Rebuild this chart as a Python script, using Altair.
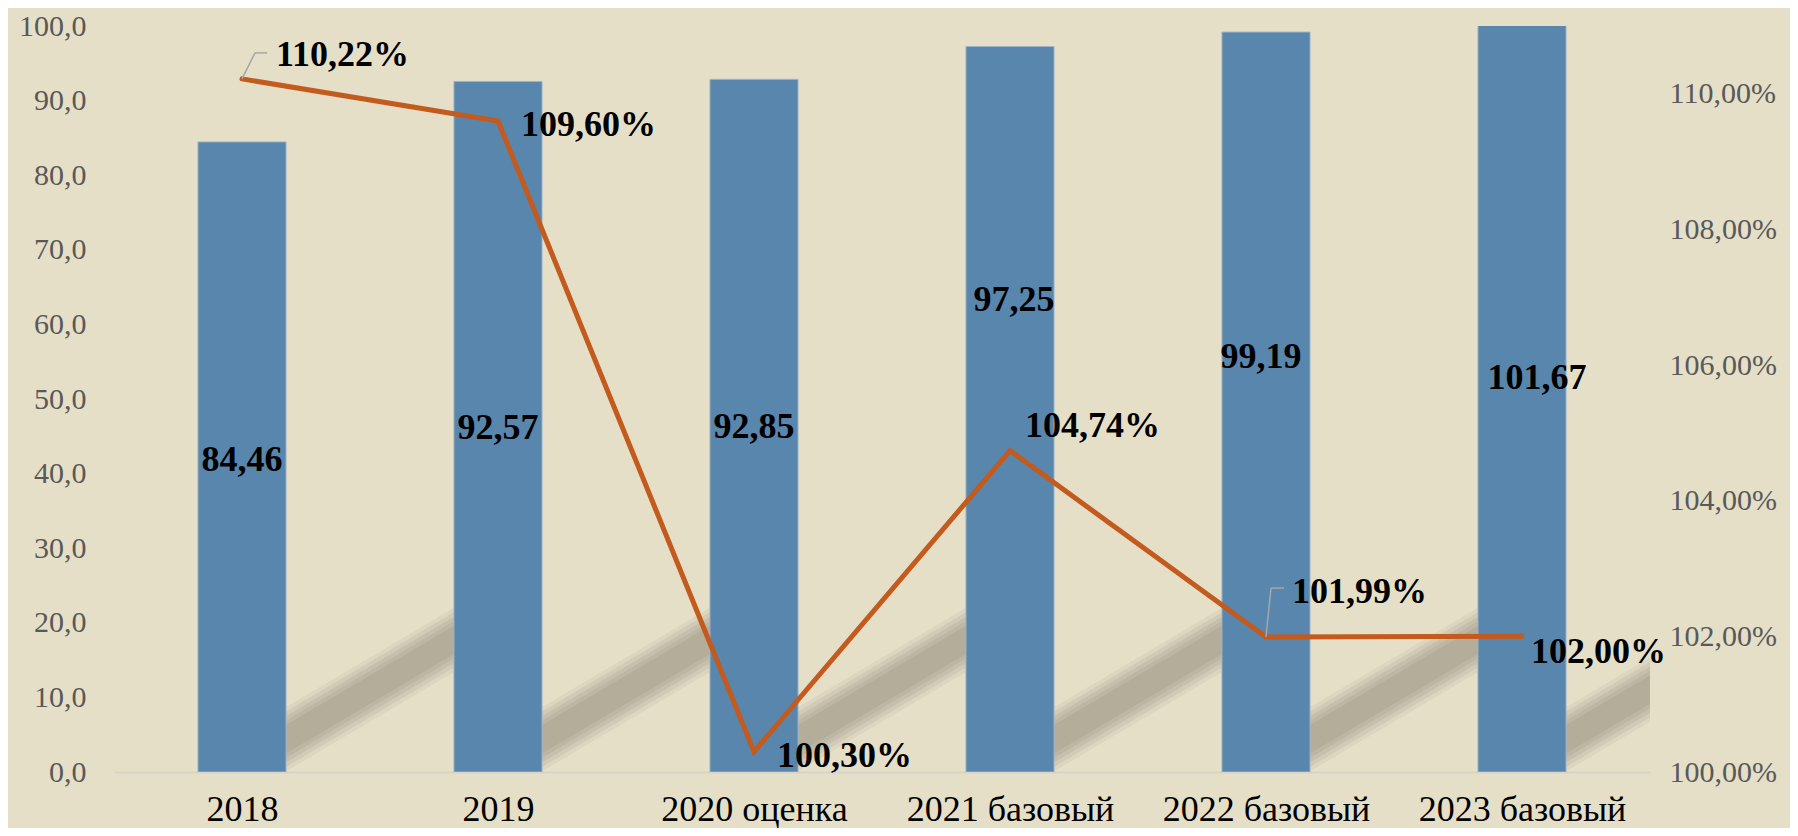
import json
import altair as alt
import pandas as pd

# ---- data ----
categories = ["2018", "2019", "2020 оценка", "2021 базовый", "2022 базовый", "2023 базовый"]
volumes = [84.46, 92.57, 92.85, 97.25, 99.19, 101.67]       # left axis (bars)
growth = [110.22, 109.60, 100.30, 104.74, 101.99, 102.00]   # right axis, % (line)
left_ticks = [0, 10, 20, 30, 40, 50, 60, 70, 80, 90, 100]
right_ticks = [100, 102, 104, 106, 108, 110]

df = pd.DataFrame({"cat": categories, "idx": list(range(len(categories))),
                   "v": volumes, "p": growth})

# ---- styling ----
BG = "#E6DFC7"
BAR = "#5986AD"
LINE = "#C35A1E"
SHADOW = "#B3AD9A"
AXIS_GREY = "#595959"
FONT = "Liberation Serif"
BAR_HALF = 0.172          # half bar width in category steps

# decorative bar shadows (derived per bar: from bar i to bar i+1)
SH_C0, SH_RISE = 0.9, 20.3
sh_rows = []
for i in range(len(categories)):
    for k in (0, 1):
        sh_rows.append({"sid": i, "sx": i + k, "c": SH_C0 + SH_RISE * k})
sh_df = pd.DataFrame(sh_rows)

xs = alt.Scale(domain=[-0.5, len(categories) - 0.5], nice=False, zero=False)
ys_left = alt.Scale(domain=[0, 100], nice=False, zero=True)
ys_right = alt.Scale(domain=[100, 111], nice=False, zero=False)

x_axis = alt.Axis(
    values=list(range(len(categories))),
    labelExpr=json.dumps(categories, ensure_ascii=False) + "[datum.value]",
    labelFlush=False, labelOverlap=False, labelLimit=0, ticks=False, grid=False,
    domain=True, domainColor="#D6D3CA", domainWidth=2,
    labelFont=FONT, labelFontSize=36, labelColor="black", labelPadding=20,
    title=None,
)
left_axis = alt.Axis(
    values=left_ticks,
    labelExpr="replace(format(datum.value, '.1f'), '.', ',')",
    ticks=False, grid=False, domain=False,
    labelFont=FONT, labelFontSize=30, labelColor=AXIS_GREY, labelPadding=28,
    title=None,
)
right_axis = alt.Axis(
    values=right_ticks,
    labelExpr="replace(format(datum.value, '.2f'), '.', ',') + '%'",
    ticks=False, grid=False, domain=False,
    labelFont=FONT, labelFontSize=30, labelColor=AXIS_GREY, labelPadding=19,
    title=None,
)


def X(field):
    return alt.X(field, type="quantitative", scale=xs, axis=x_axis, title=None)


def YL(field):
    return alt.Y(field, type="quantitative", scale=ys_left, axis=left_axis, title=None)


def YR(field):
    return alt.Y(field, type="quantitative", scale=ys_right, axis=right_axis, title=None)


base = alt.Chart(df)

# shadows: stacked translucent bands give a soft edge
shadow_layers = []
for half, op in [(4.3, 0.18), (3.7, 0.25), (3.1, 0.35), (2.5, 0.5), (1.9, 1.0)]:
    shadow_layers.append(
        alt.Chart(sh_df)
        .transform_calculate(lo=f"datum.c - {half}", hi=f"datum.c + {half}")
        .mark_area(color=SHADOW, opacity=op, clip=True)
        .encode(x=X("sx"), y=YL("lo"), y2="hi:Q", detail="sid:N")
    )

bars = (
    base.transform_calculate(x0=f"datum.idx - {BAR_HALF}", x1=f"datum.idx + {BAR_HALF}", zero="0")
    .mark_rect(color=BAR, stroke="#9FB4C8", strokeWidth=1, clip=True)
    .encode(x=X("x0"), x2="x1:Q", y=YL("v"), y2="zero:Q")
)

# bar value labels: (dx, dy) pixel nudges as in the reference
bar_label_offsets = [(0, 3), (0, 1), (0, 1), (4, -109), (-5, -45), (15, -15)]
bar_labels = []
for i, (dx, dy) in enumerate(bar_label_offsets):
    bar_labels.append(
        base.transform_filter(f"datum.idx == {i}")
        .transform_calculate(mid="datum.v / 2",
                             txt="replace(format(datum.v, '.2f'), '.', ',')")
        .mark_text(font=FONT, fontSize=36, fontWeight="bold", color="black",
                   align="center", baseline="middle", dx=dx, dy=dy)
        .encode(x=X("idx"), y=YL("mid"), text="txt:N")
    )

left_group = alt.layer(*shadow_layers, bars, *bar_labels)

line = base.mark_line(color=LINE, strokeWidth=5, strokeCap="round").encode(
    x=X("idx"), y=YR("p"))

# leader lines for two labels: (index, elbow dx, elbow dy, end dx)
leaders = []
for i, ox, oy, ex in [(0, 13, -26, 25), (4, 5, -49, 18)]:
    sel = base.transform_filter(f"datum.idx == {i}")
    leaders.append(
        sel.mark_rule(color="#A6A6A6", strokeWidth=1.5, x2Offset=ox, y2Offset=oy)
        .encode(x=X("idx"), y=YR("p"), x2="idx:Q", y2="p:Q"))
    leaders.append(
        sel.mark_rule(color="#A6A6A6", strokeWidth=1.5, xOffset=ox, yOffset=oy,
                      x2Offset=ex, y2Offset=oy)
        .encode(x=X("idx"), y=YR("p"), x2="idx:Q", y2="p:Q"))

line_label_offsets = [(34, -24), (23, 4), (23, 4), (15, -25), (26, -45), (9, 16)]
line_labels = []
for i, (dx, dy) in enumerate(line_label_offsets):
    line_labels.append(
        base.transform_filter(f"datum.idx == {i}")
        .transform_calculate(txt="replace(format(datum.p, '.2f'), '.', ',') + '%'")
        .mark_text(font=FONT, fontSize=36, fontWeight="bold", color="black",
                   align="left", baseline="middle", dx=dx, dy=dy)
        .encode(x=X("idx"), y=YR("p"), text="txt:N")
    )

right_group = alt.layer(line, *leaders, *line_labels)

chart = (
    alt.layer(left_group, right_group)
    .resolve_scale(y="independent")
    .properties(
        width=1536, height=746,
        autosize=alt.AutoSizeParams(type="none"),
        padding={"left": 106, "top": 18, "right": 140, "bottom": 56},
        background=BG,
    )
    .configure_view(stroke=None)
)

chart.save("out.html", embed_options={"renderer": "svg", "actions": False})
